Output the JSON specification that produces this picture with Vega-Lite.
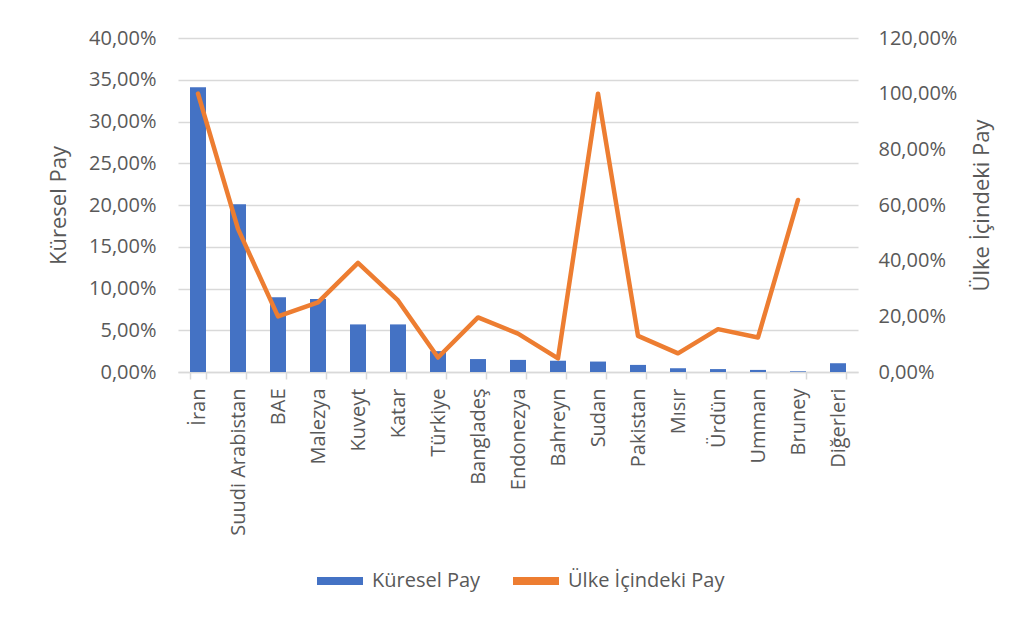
{
  "$schema": "https://vega.github.io/schema/vega-lite/v6.json",
  "width": 680,
  "height": 334,
  "autosize": {"type": "none"},
  "padding": {"left": 178, "top": 38, "right": 176, "bottom": 245},
  "background": "white",
  "config": {
    "locale": {"number": {"decimal": ",", "thousands": ".", "grouping": [3], "currency": ["", " TL"]}},
    "font": "Open Sans",
    "view": {"stroke": null},
    "axis": {
      "labelFont": "Open Sans",
      "titleFont": "Open Sans",
      "labelColor": "#595959",
      "titleColor": "#595959",
      "labelFontSize": 20,
      "titleFontSize": 22,
      "titleFontWeight": "normal",
      "gridColor": "#d9d9d9",
      "gridWidth": 1.5,
      "domain": false,
      "ticks": false
    },
    "legend": {"labelFont": "Open Sans", "labelFontSize": 20, "labelColor": "#595959"}
  },
  "data": {
    "values": [
      {"ulke": "İran", "kuresel": 0.341, "ic": 1.0},
      {"ulke": "Suudi Arabistan", "kuresel": 0.201, "ic": 0.514},
      {"ulke": "BAE", "kuresel": 0.0895, "ic": 0.20},
      {"ulke": "Malezya", "kuresel": 0.0875, "ic": 0.25},
      {"ulke": "Kuveyt", "kuresel": 0.057, "ic": 0.392},
      {"ulke": "Katar", "kuresel": 0.057, "ic": 0.257},
      {"ulke": "Türkiye", "kuresel": 0.025, "ic": 0.052},
      {"ulke": "Bangladeş", "kuresel": 0.0155, "ic": 0.196},
      {"ulke": "Endonezya", "kuresel": 0.0145, "ic": 0.138},
      {"ulke": "Bahreyn", "kuresel": 0.0135, "ic": 0.049},
      {"ulke": "Sudan", "kuresel": 0.0125, "ic": 1.0},
      {"ulke": "Pakistan", "kuresel": 0.0085, "ic": 0.13},
      {"ulke": "Mısır", "kuresel": 0.0045, "ic": 0.067},
      {"ulke": "Ürdün", "kuresel": 0.0035, "ic": 0.154},
      {"ulke": "Umman", "kuresel": 0.0025, "ic": 0.124},
      {"ulke": "Bruney", "kuresel": 0.0008, "ic": 0.618},
      {"ulke": "Diğerleri", "kuresel": 0.0105, "ic": null}
    ]
  },
  "layer": [
    {
      "mark": {"type": "bar"},
      "encoding": {
        "x": {
          "field": "ulke",
          "type": "nominal",
          "sort": null,
          "scale": {"paddingInner": 0.6, "paddingOuter": 0.3},
          "axis": {
            "title": null,
            "labelAngle": -90,
            "labelAlign": "right",
            "labelBaseline": "middle",
            "labelPadding": 9,
            "domain": true,
            "domainColor": "#d9d9d9",
            "domainWidth": 1.5,
            "ticks": true,
            "tickBand": "extent",
            "tickSize": 7,
            "tickColor": "#d9d9d9",
            "tickWidth": 1.5,
            "grid": false
          }
        },
        "y": {
          "field": "kuresel",
          "type": "quantitative",
          "scale": {"domain": [0, 0.4]},
          "axis": {
            "orient": "left",
            "title": "Küresel Pay",
            "values": [0, 0.05, 0.1, 0.15, 0.2, 0.25, 0.3, 0.35, 0.4],
            "format": ".2%",
            "labelPadding": 22,
            "titlePadding": 18,
            "grid": true
          }
        },
        "color": {
          "datum": "Küresel Pay",
          "type": "nominal",
          "scale": {"domain": ["Küresel Pay", "Ülke İçindeki Pay"], "range": ["#4472C4", "#ED7D31"]},
          "legend": {
            "title": null,
            "orient": "none",
            "legendX": 139,
            "legendY": 520,
            "direction": "horizontal",
            "symbolType": "M-1,-0.17H1V0.17H-1Z",
            "symbolSize": 2116,
            "symbolStrokeWidth": 0,
            "labelOffset": 9,
            "columnPadding": 32,
            "encode": {
              "symbols": {
                "update": {
                  "fill": {"scale": "color", "field": "value"},
                  "stroke": {"value": "transparent"},
                  "opacity": {"value": 1}
                }
              }
            }
          }
        }
      }
    },
    {
      "mark": {"type": "line", "strokeWidth": 4.5, "strokeCap": "round", "strokeJoin": "round"},
      "encoding": {
        "x": {"field": "ulke", "type": "nominal", "sort": null},
        "y": {
          "field": "ic",
          "type": "quantitative",
          "scale": {"domain": [0, 1.2]},
          "axis": {
            "orient": "right",
            "title": "Ülke İçindeki Pay",
            "values": [0, 0.2, 0.4, 0.6, 0.8, 1.0, 1.2],
            "format": ".2%",
            "labelPadding": 20,
            "titlePadding": 37,
            "titleAngle": -90,
            "grid": false
          }
        },
        "color": {"datum": "Ülke İçindeki Pay", "type": "nominal"}
      }
    }
  ],
  "resolve": {"scale": {"y": "independent"}}
}
